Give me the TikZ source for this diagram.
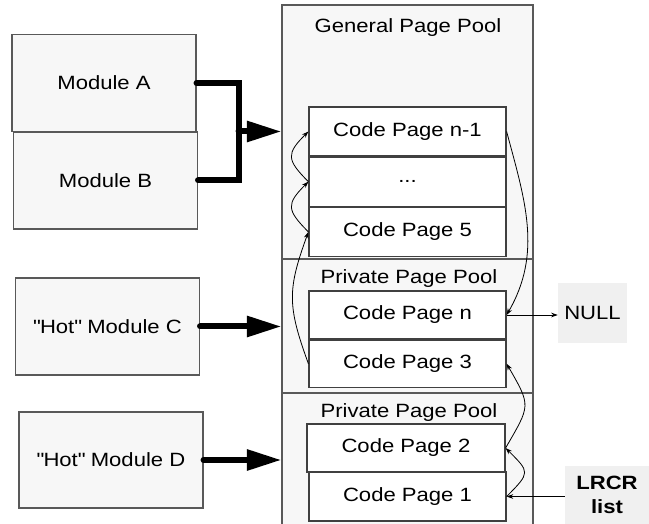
\documentclass[tikz,border=0pt]{standalone}
\usepackage{fontspec}
\setmainfont{Liberation Sans}[FakeStretch=1.15]
\usepackage{xcolor}
\usepackage{tikz}
\usetikzlibrary{arrows.meta}
\usetikzlibrary{positioning}
\colorlet{boxline}{black!65}
\colorlet{boxfill}{black!3}
\colorlet{notefill}{black!6}
\newcommand\hotq{\textquotedbl}
\tikzstyle{modbox}=[draw=boxline,fill=boxfill,line width=.8pt,inner sep=0pt,minimum width=138pt,minimum height=72.75pt]
\tikzstyle{pool}=[draw=boxline,fill=boxfill,line width=.8pt,inner sep=0pt,minimum width=188.25pt]
\tikzstyle{page}=[draw=black!75,fill=white,line width=.9pt,inner sep=0pt,minimum width=147.75pt,minimum height=36.75pt]
\tikzstyle{note}=[fill=notefill,inner sep=0pt]
\tikzstyle{fork}=[line width=4.5pt,line cap=round,line join=miter]
\tikzstyle{feed}=[line width=4.5pt,line cap=round,-{Triangle[length=26pt,width=15pt]}]
\tikzstyle{link}=[line width=.6pt,-{Stealth[length=5pt,width=3.5pt]}]
\begin{document}
\begin{tikzpicture}[x=.75pt,y=.75pt,font=\fontsize{14.4}{17}\selectfont]
	\useasboundingbox (0,0) rectangle (649,524);
	% page pools
	\node[pool,minimum height=190.5pt]  (gpool)  at (407.5,392)  {};
	\node[pool,minimum height=100.5pt]  (ppool1) at (407.5,198)  {};
	\node[pool,minimum height=105.75pt] (ppool2) at (407.5,60.5) {};
	\node (gtitle)  at (408,496) {General Page Pool};
	\node (ptitle1) at (409,245) {Private Page Pool};
	\node (ptitle2) at (409,111) {Private Page Pool};
	% code pages
	\node[page] (cpn1) at (407.5,392.5) {Code Page n-1};
	\node[page,below=0pt of cpn1]   (cpdots) {...};
	\node[page,below=0pt of cpdots] (cp5)    {Code Page 5};
	\node[page,minimum height=36pt] (cpn) at (407.5,209) {Code Page n};
	\node[page,minimum height=35.25pt,below=0pt of cpn] (cp3) {Code Page 3};
	\node[page,minimum width=148.5pt,minimum height=36pt] (cp2) at (406,76) {Code Page 2};
	\node[page] (cp1) at (407.5,27.5) {Code Page 1};
	% modules
	\node[modbox] (modA) at (104,441)   {Module A};
	\node[modbox] (modB) at (105.5,343.5) {Module B};
	\node[modbox] (modC) at (107.5,197.5) {\hotq Hot\hotq{} Module C};
	\node[modbox,minimum height=72pt] (modD) at (111,64) {\hotq Hot\hotq{} Module D};
	% list ends
	\node[note,minimum width=51.75pt,minimum height=45pt] (nullbox) at (592.5,211) {NULL};
	\node[note,minimum width=63pt,minimum height=43.5pt,align=center,
	      font=\fontsize{14.4}{18}\selectfont\bfseries] (lrcr) at (607,29) {LRCR\\list};
	% module feeds
	\draw[fork] (modA.east) -- ++(42,0) coordinate (forktop) -- (forktop |- modB.east) -- (modB.east);
	\draw[feed] (forktop |- cpn1.west) -- (cpn1.west -| gpool.west);
	\draw[feed] (modC.east) -- (modC.east -| ppool1.west);
	\draw[feed] (modD.east) -- (modD.east -| ppool2.west);
	% page list
	\draw[link] (lrcr.west |- cp1.east) -- (cp1.east);
	\draw[link] (cp1.east) to[out=45,in=-45,looseness=1.8] (cp2.east);
	\draw[link] (cp2.east) to[out=60,in=-60,looseness=1.5] (cp3.east);
	\draw[link] (cp3.west) to[out=110,in=-110,looseness=1.2] (cp5.west);
	\draw[link] (cp5.west) to[out=135,in=-135,looseness=1.6] (cpdots.west);
	\draw[link] (cpdots.west) to[out=135,in=-135,looseness=1.6] (cpn1.west);
	\draw[link] (cpn1.east) to[out=-75,in=60,looseness=1] (cpn.east);
	\draw[link] (cpn.east) -- (cpn.east -| nullbox.west);
\end{tikzpicture}
\end{document}
